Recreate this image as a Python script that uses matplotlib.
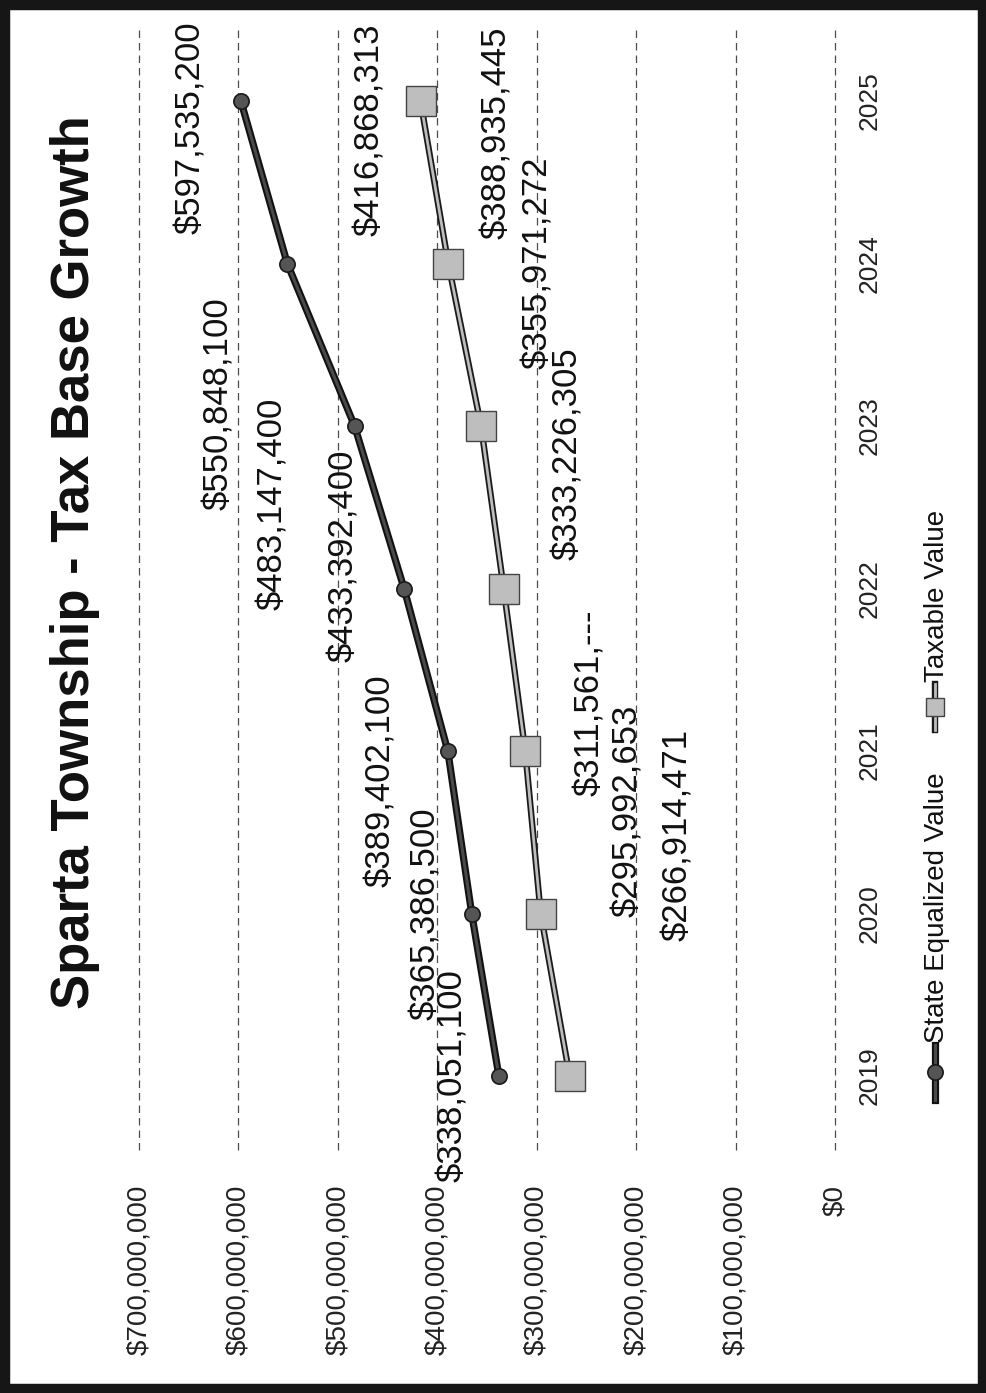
import matplotlib
matplotlib.use("Agg")
import matplotlib.pyplot as plt
import matplotlib.patheffects as pe
from matplotlib.lines import Line2D
from matplotlib.patches import Rectangle

plt.rcParams['font.family'] = ['Liberation Sans', 'DejaVu Sans']

years = [2019, 2020, 2021, 2022, 2023, 2024, 2025]
sev = [338051100, 365386500, 389402100, 433392400, 483147400, 550848100, 597535200]
taxable = [266914471, 295992653, 311561000, 333226305, 355971272, 388935445, 416868313]
sev_labels = ['$338,051,100', '$365,386,500', '$389,402,100', '$433,392,400',
              '$483,147,400', '$550,848,100', '$597,535,200']
taxable_labels = ['$266,914,471', '$295,992,653', '$311,561,---', '$333,226,305',
                  '$355,971,272', '$388,935,445', '$416,868,313']
value_ticks = [0, 100e6, 200e6, 300e6, 400e6, 500e6, 600e6, 700e6]
value_tick_labels = ['$0', '$100,000,000', '$200,000,000', '$300,000,000',
                     '$400,000,000', '$500,000,000', '$600,000,000', '$700,000,000']

# label offsets in pixels (dx right, dy down on the page)
sev_off = [(-46, 0), (-46, 0), (-67, 30), (-61, -33), (-82, 78), (-69, 140), (-50, 27)]
tax_off = [(108, -241), (87, -103), (64, -48), (64, -135), (57, -163), (48, -131), (-51, 29)]

W, H = 987, 1393
fig = plt.figure(figsize=(W / 100, H / 100), dpi=100)
fig.patch.set_facecolor('white')

# the chart is laid out turned on its side: values run right-to-left, years bottom-to-top
ax = fig.add_axes([139 / W, 1 - 1150 / H, (835 - 139) / W, (1150 - 25) / H])
ax.set_xlim(700e6, 0)
ax.set_ylim(2018.545, 2025.468)

sev_fx = [pe.Stroke(linewidth=5.2, foreground='#111111'), pe.Normal()]
tax_fx = [pe.Stroke(linewidth=4.6, foreground='#1a1a1a'), pe.Normal()]

ax.plot(sev, years, color='#4a4a4a', lw=2.2, path_effects=sev_fx, zorder=3)
ax.plot(sev, years, ls='none', marker='o', ms=11, mfc='#555555', mec='#1a1a1a',
        mew=1.2, zorder=4)
ax.plot(taxable, years, color='#bdbdbd', lw=2.0, path_effects=tax_fx, zorder=3)
ax.plot(taxable, years, ls='none', marker='s', ms=21, mfc='#bebebe', mec='#444444',
        mew=1.0, zorder=4)

for v, yr, s, (dx, dy) in zip(sev, years, sev_labels, sev_off):
    ax.annotate(s, xy=(v, yr), xytext=(dx, -dy), textcoords='offset pixels',
                rotation=90, ha='center', va='center', fontsize=25, color='#111111',
                zorder=5)
for v, yr, s, (dx, dy) in zip(taxable, years, taxable_labels, tax_off):
    ax.annotate(s, xy=(v, yr), xytext=(dx, -dy), textcoords='offset pixels',
                rotation=90, ha='center', va='center', fontsize=25, color='#111111',
                zorder=5)

ax.set_xticks(value_ticks)
ax.set_xticklabels(value_tick_labels, rotation=90, fontsize=20, color='#222222')
ax.tick_params(axis='x', length=0, pad=25)

ax.yaxis.tick_right()
ax.set_yticks(years)
ax.set_yticklabels([str(y) for y in years], rotation=90, fontsize=19, color='#222222',
                   va='center')
ax.tick_params(axis='y', length=0, pad=16)

ax.grid(axis='x', color='#4d4d4d', ls=(0, (6, 4)), lw=0.9)
ax.grid(axis='y', visible=False)
for gl in ax.get_xgridlines():
    gl.set_clip_on(False)
for sp in ax.spines.values():
    sp.set_visible(False)

# title along the left edge
fig.text(75 / W, 1 - 562 / H, 'Sparta Township - Tax Base Growth', rotation=90,
         ha='center', va='center', fontsize=38, fontweight='bold', color='#111111')

# legend drawn by hand so it reads in the same direction as the rest
def fx(px):
    return px / W


def fy(py):
    return 1 - py / H


lx = 935
fig.add_artist(Line2D([fx(lx), fx(lx)], [fy(1100), fy(1045)], color='#4a4a4a', lw=2.2,
                      path_effects=sev_fx, transform=fig.transFigure))
fig.add_artist(Line2D([fx(lx)], [fy(1072)], ls='none', marker='o', ms=11, mfc='#555555',
                      mec='#1a1a1a', mew=1.2, transform=fig.transFigure))
fig.text(fx(lx + 2), fy(1043), 'State Equalized Value', rotation=90, ha='center',
         va='bottom', fontsize=20, color='#111111')

fig.add_artist(Line2D([fx(lx), fx(lx)], [fy(730), fy(684)], color='#bdbdbd', lw=2.0,
                      path_effects=tax_fx, transform=fig.transFigure))
fig.add_artist(Line2D([fx(lx)], [fy(707)], ls='none', marker='s', ms=13, mfc='#bebebe',
                      mec='#444444', mew=1.0, transform=fig.transFigure))
fig.text(fx(lx + 2), fy(682), 'Taxable Value', rotation=90, ha='center',
         va='bottom', fontsize=20, color='#111111')

# heavy frame around the page
fig.add_artist(Rectangle((0, 0), 1, 1, transform=fig.transFigure, fill=False,
                         ec='#161616', lw=14))

fig.savefig('out.png', dpi=100, facecolor='white')
